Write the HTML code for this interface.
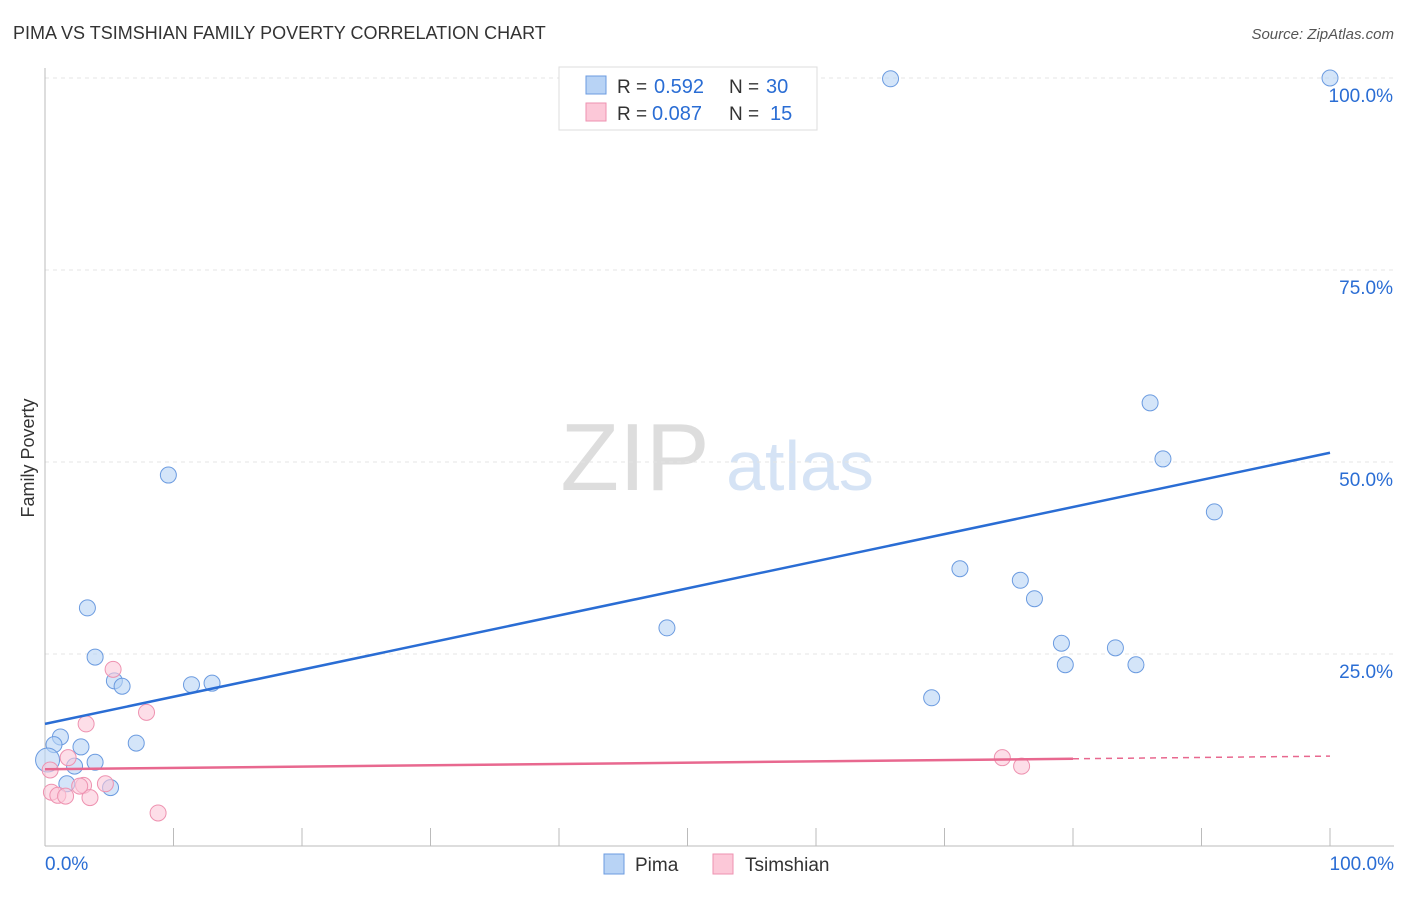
<!DOCTYPE html>
<html><head><meta charset="utf-8"><style>
body{margin:0;background:#fff;font-family:"Liberation Sans",sans-serif;}
svg text{font-family:"Liberation Sans",sans-serif;}
</style></head><body>
<svg id="c" width="1406" height="892" viewBox="0 0 1406 892">
<text x="13" y="39" font-size="18" fill="#333">PIMA VS TSIMSHIAN FAMILY POVERTY CORRELATION CHART</text>
<text x="1394" y="39" font-size="15" fill="#555" text-anchor="end" font-style="italic">Source: ZipAtlas.com</text>
<text x="34" y="458" font-size="18" fill="#333" text-anchor="middle" transform="rotate(-90 34 458)">Family Poverty</text>
<g><text x="635" y="490" font-size="96" fill="#ddd" text-anchor="middle" font-family="Liberation Serif">ZIP</text><text x="800" y="490" font-size="70" fill="#d5e3f5" text-anchor="middle">atlas</text></g>
<g id="grid"></g><g id="axes"></g><g id="marks"></g>
<g>
<rect x="559" y="67" width="258" height="63" fill="#fff" stroke="#ddd"/>
<rect x="586" y="76" width="20" height="18" fill="#b8d3f5" stroke="#6b9be0"/>
<rect x="586" y="103" width="20" height="18" fill="#fcc8d8" stroke="#ee92b0"/>
<text x="617" y="93" font-size="19" fill="#333">R =</text>
<text x="654" y="93" font-size="20" fill="#2a6dd4">0.592</text>
<text x="729" y="93" font-size="19" fill="#333">N =</text>
<text x="766" y="93" font-size="20" fill="#2a6dd4">30</text>
<text x="617" y="120" font-size="19" fill="#333">R =</text>
<text x="652" y="120" font-size="20" fill="#2a6dd4">0.087</text>
<text x="729" y="120" font-size="19" fill="#333">N =</text>
<text x="770" y="120" font-size="20" fill="#2a6dd4">15</text>
</g>
<g>
<rect x="604" y="854" width="20" height="20" fill="#b8d3f5" stroke="#6b9be0"/>
<text x="635" y="871" font-size="19" fill="#333">Pima</text>
<rect x="713" y="854" width="20" height="20" fill="#fcc8d8" stroke="#ee92b0"/>
<text x="745" y="871" font-size="19" fill="#333">Tsimshian</text>
</g>
</svg>
<script>
const pimaX=[65.8,100,86.0,87.0,91.0,71.2,75.9,77.0,79.1,79.4,83.3,84.9,69.0,48.4,9.6,3.3,3.9,5.4,6.0,11.4,13.0,7.1,1.2,0.7,2.8,3.9,2.3,1.7,5.1,0.2];
const pimaY=[99.9,100,57.7,50.4,43.5,36.1,34.6,32.2,26.4,23.6,25.8,23.6,19.3,28.4,48.3,31.0,24.6,21.5,20.8,21.0,21.2,13.4,14.2,13.2,12.9,10.9,10.4,8.1,7.6,11.2];
const tsX=[5.3,7.9,3.2,1.8,0.4,0.5,1.0,1.6,3.0,4.7,3.5,8.8,74.5,76.0,2.7];
const tsY=[23.0,17.4,15.9,11.5,9.9,7.0,6.6,6.5,7.9,8.1,6.3,4.3,11.5,10.4,7.8];
const yTicks=[25,50,75,100];
const yTickLabels=["25.0%","50.0%","75.0%","100.0%"];
const xTickLabels=["0.0%","100.0%"];
const pimaLine=[15.9,51.2];
const tsLine=[10.0,11.7];
const tsSolidEnd=80;
const X=v=>45+v*12.85, Y=v=>846-v*7.68;
const NS="http://www.w3.org/2000/svg";
function mk(t,a,p){const e=document.createElementNS(NS,t);for(const k in a)e.setAttribute(k,a[k]);p.appendChild(e);return e;}
const grid=document.getElementById('grid'),axes=document.getElementById('axes'),marks=document.getElementById('marks');
yTicks.forEach((v,i)=>{
 const l=mk('line',{x1:45,x2:1394,y1:Y(v),y2:Y(v),stroke:'#e4e4e4','stroke-dasharray':'4,4'},grid);
 
 
 const t=mk('text',{x:1393,y:Y(v)+24,'font-size':19,fill:'#2a6dd4','text-anchor':'end'},axes);t.textContent=yTickLabels[i];
 
 
});
const ax=mk('line',{x1:45,x2:1394,y1:846,y2:846,stroke:'#bbb'},axes);


const ay=mk('line',{x1:45,x2:45,y1:68,y2:846,stroke:'#bbb'},axes);


for(let i=0;i<=10;i++){const t=mk('line',{x1:X(i*10),x2:X(i*10),y1:828,y2:846,stroke:'#bbb'},axes);
 
 }
[[0,'start',45],[100,'end',1394]].forEach((d,i)=>{const t=mk('text',{x:d[2],y:870,'font-size':19,fill:'#2a6dd4','text-anchor':d[1]},axes);t.textContent=xTickLabels[i];
 
 });
pimaX.forEach((x,i)=>{const c=mk('circle',{cx:X(x),cy:Y(pimaY[i]),r:i==29?12:8,fill:'rgba(184,211,245,0.6)',stroke:'#6b9be0','stroke-width':1},marks);
 
 });
tsX.forEach((x,i)=>{const c=mk('circle',{cx:X(x),cy:Y(tsY[i]),r:8,fill:'rgba(252,200,216,0.6)',stroke:'#ee92b0','stroke-width':1},marks);
 
 });
const pl=mk('line',{x1:X(0),y1:Y(pimaLine[0]),x2:X(100),y2:Y(pimaLine[1]),stroke:'#2a6dd4','stroke-width':2.5},marks);


const tm=tsLine[0]+(tsLine[1]-tsLine[0])*tsSolidEnd/100;
const tl=mk('line',{x1:X(0),y1:Y(tsLine[0]),x2:X(tsSolidEnd),y2:Y(tm),stroke:'#e8688f','stroke-width':2.5},marks);


const td=mk('line',{x1:X(tsSolidEnd),y1:Y(tm),x2:X(100),y2:Y(tsLine[1]),stroke:'#e8688f','stroke-width':1.5,'stroke-dasharray':'6,5'},marks);


</script>
</body></html>
